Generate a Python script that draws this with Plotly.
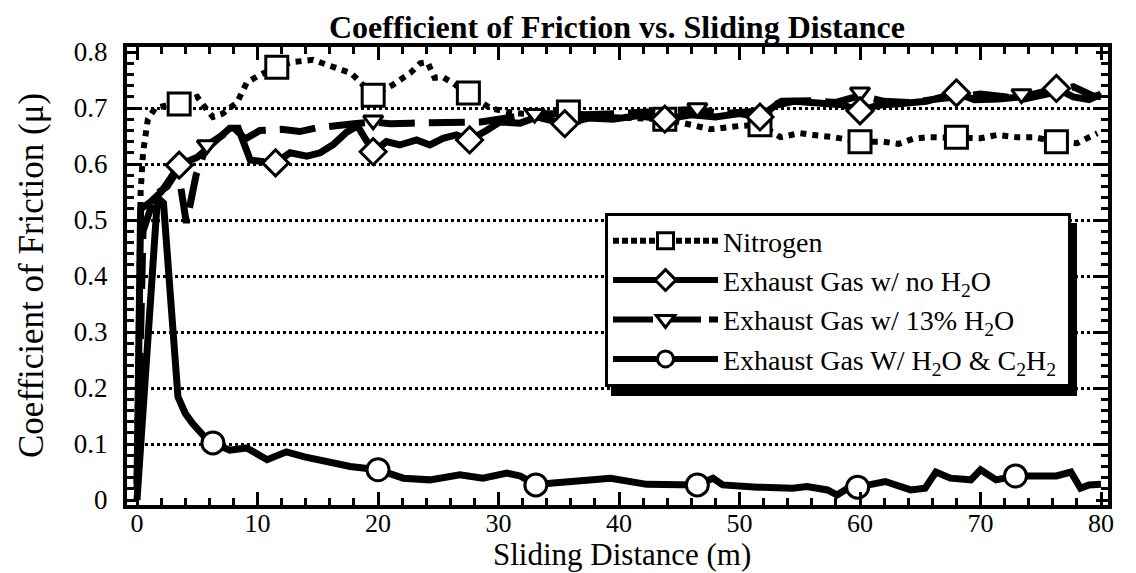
import plotly.graph_objects as go

FONT = "Liberation Serif"

# ---------------- data ----------------
n2_x = [0, 0.1, 0.2, 0.3, 0.5, 0.9, 1.5, 2.5, 3.5, 4.3, 5.0, 5.5, 6.3, 7.1, 8.3, 9.1, 10.0,
        11.6, 12.9, 14.6, 16.0, 17.0, 17.8, 19.6, 21.2, 22.0, 22.7, 23.5, 24.1, 24.7, 25.4,
        26.1, 27.5, 29.3, 30.7, 32.0, 34.0, 35.8, 38.0, 40.0, 42.0, 43.8, 46.0, 47.6, 50.0,
        51.7, 53.4, 55.0, 56.1, 57.8, 60.0, 61.9, 63.2, 64.4, 65.6, 68.0, 70.0, 71.4, 73.0,
        74.4, 76.3, 78.0, 79.7]
n2_y = [0.05, 0.2, 0.4, 0.55, 0.62, 0.68, 0.70, 0.705, 0.707, 0.715, 0.72, 0.705, 0.684, 0.69,
        0.71, 0.745, 0.757, 0.773, 0.782, 0.786, 0.777, 0.768, 0.762, 0.723, 0.741, 0.754,
        0.763, 0.78, 0.782, 0.754, 0.755, 0.746, 0.727, 0.70, 0.693, 0.69, 0.69, 0.693, 0.685,
        0.683, 0.68, 0.68, 0.67, 0.662, 0.668, 0.67, 0.648, 0.655, 0.652, 0.648, 0.64, 0.64,
        0.636, 0.645, 0.648, 0.648, 0.646, 0.652, 0.648, 0.648, 0.64, 0.637, 0.655]
n2_mx = [3.5, 11.6, 19.6, 27.5, 35.8, 43.8, 51.7, 60.0, 68.0, 76.3]
n2_my = [0.707, 0.773, 0.723, 0.727, 0.693, 0.68, 0.67, 0.64, 0.648, 0.64]

noh_x = [0, 0.3, 1.0, 2.0, 2.8, 3.5, 5.0, 6.2, 7.7, 8.4, 9.4, 10.5, 11.5, 12.7, 14.1, 15.2,
         16.3, 17.4, 18.3, 19.6, 20.7, 21.8, 23.2, 24.3, 25.4, 26.5, 27.6, 29.0, 30.1, 31.8,
         33.2, 35.5, 37.5, 39.5, 41.5, 43.8, 46.0, 48.0, 50.0, 51.7, 53.0, 54.5, 56.5, 58.5,
         60.0, 61.5, 63.5, 65.5, 68.0, 69.5, 71.5, 73.5, 76.3, 77.7, 79.0, 80.0]
noh_y = [0.03, 0.52, 0.53, 0.55, 0.575, 0.598, 0.612, 0.637, 0.664, 0.664, 0.607, 0.604,
         0.602, 0.62, 0.614, 0.62, 0.635, 0.657, 0.668, 0.622, 0.64, 0.634, 0.643, 0.634,
         0.646, 0.652, 0.643, 0.66, 0.675, 0.673, 0.684, 0.672, 0.682, 0.68, 0.686, 0.68,
         0.688, 0.684, 0.69, 0.684, 0.705, 0.712, 0.708, 0.706, 0.695, 0.705, 0.708, 0.712,
         0.727, 0.715, 0.716, 0.72, 0.735, 0.72, 0.715, 0.725]
noh_mx = [3.5, 11.5, 19.6, 27.6, 35.5, 43.8, 51.7, 60.0, 68.0, 76.3]
noh_my = [0.598, 0.602, 0.622, 0.643, 0.672, 0.68, 0.684, 0.695, 0.727, 0.735]

h13_x = [0, 0.5, 1.5, 2.5, 3.4, 4.1, 4.9, 5.8, 7.0, 8.0, 9.0, 10.2, 12.0, 13.5, 15.0, 16.5,
         18.0, 19.6, 21.0, 22.7, 25.0, 27.0, 28.5, 30.0, 33.0, 35.0, 37.0, 40.0, 43.0, 46.5,
         48.5, 50.5, 52.0, 53.5, 56.0, 58.0, 60.0, 62.0, 64.0, 66.0, 68.0, 70.0, 72.0, 73.4,
         75.5, 77.7, 79.3, 80.0]
h13_y = [0.02, 0.48, 0.545, 0.56, 0.59, 0.495, 0.58, 0.634, 0.65, 0.665, 0.645, 0.66, 0.662,
         0.658, 0.665, 0.67, 0.672, 0.675, 0.672, 0.673, 0.673, 0.672, 0.675, 0.68, 0.69,
         0.69, 0.688, 0.69, 0.695, 0.698, 0.69, 0.692, 0.695, 0.712, 0.713, 0.71, 0.722,
         0.712, 0.71, 0.715, 0.72, 0.725, 0.72, 0.715, 0.725, 0.738, 0.722, 0.72]
h13_mx = [5.8, 19.6, 33.0, 46.5, 60.0, 73.4]
h13_my = [0.634, 0.678, 0.69, 0.70, 0.728, 0.725]

c2_x = [0, 0.6, 1.2, 1.7, 2.2, 2.8, 3.4, 4.0, 4.6, 5.6, 6.3, 7.7, 9.1, 10.8, 12.4, 13.9, 15.8,
        17.7, 20.0, 22.1, 24.3, 26.8, 28.7, 30.7, 31.8, 33.1, 34.3, 36.8, 39.3, 42.3, 45.0,
        46.5, 47.8, 48.6, 51.5, 54.4, 55.6, 57.3, 58.1, 59.0, 59.8, 62.1, 64.2, 65.4, 66.3,
        67.5, 69.2, 70.0, 71.3, 72.9, 76.3, 77.5, 78.3, 79.0, 80.0]
c2_y = [0.0, 0.2, 0.42, 0.54, 0.53, 0.35, 0.184, 0.155, 0.137, 0.113, 0.102, 0.089, 0.093,
        0.072, 0.086, 0.077, 0.068, 0.06, 0.054, 0.039, 0.036, 0.045, 0.039, 0.048, 0.043,
        0.027, 0.03, 0.036, 0.039, 0.028, 0.027, 0.027, 0.039, 0.027, 0.023, 0.021, 0.024,
        0.018, 0.009, 0.021, 0.023, 0.033, 0.018, 0.021, 0.05, 0.039, 0.036, 0.054, 0.036,
        0.043, 0.043, 0.05, 0.021, 0.027, 0.028]
c2_mx = [6.3, 20.0, 33.1, 46.5, 59.8, 72.9]
c2_my = [0.102, 0.054, 0.027, 0.027, 0.023, 0.043]

x_ticks = [0, 10, 20, 30, 40, 50, 60, 70, 80]
y_ticks = [0, 0.1, 0.2, 0.3, 0.4, 0.5, 0.6, 0.7, 0.8]
y_ticktext = ["0", "0.1", "0.2", "0.3", "0.4", "0.5", "0.6", "0.7", "0.8"]
y_grid = [0.1, 0.2, 0.3, 0.4, 0.5, 0.6, 0.7]

title_text = "<b>Coefficient of Friction vs. Sliding Distance</b>"
x_title = "Sliding Distance (m)"
y_title = "Coefficient of Friction (μ)"
names = ["Nitrogen",
         "Exhaust Gas w/ no H<sub>2</sub>O",
         "Exhaust Gas w/ 13% H<sub>2</sub>O",
         "Exhaust Gas W/ H<sub>2</sub>O &amp; C<sub>2</sub>H<sub>2</sub>&nbsp;"]

# ---------------- figure ----------------
fig = go.Figure()

LW = 7
series = [
    (n2_x, n2_y, n2_mx, n2_my, "dot", "square", 22, 6, names[0]),
    (h13_x, h13_y, h13_mx, h13_my, "36px,14px", "triangle-down", 17, LW, names[2]),
    (noh_x, noh_y, noh_mx, noh_my, "solid", "diamond", 20, LW, names[1]),
    (c2_x, c2_y, c2_mx, c2_my, "solid", "circle", 22, LW, names[3]),
]

for x, y, mx, my, dash, sym, ms, w, nm in series:
    fig.add_trace(go.Scatter(x=x, y=y, mode="lines", showlegend=False,
                             line=dict(color="black", width=w, dash=dash),
                             hoverinfo="skip"))
for x, y, mx, my, dash, sym, ms, w, nm in series:
    fig.add_trace(go.Scatter(x=mx, y=my, mode="markers", showlegend=False,
                             marker=dict(symbol=sym, size=ms, color="white",
                                         line=dict(color="black", width=3)),
                             hoverinfo="skip"))

# legend entries in reference order
legend_order = [0, 2, 1, 3]
for i in legend_order:
    x, y, mx, my, dash, sym, ms, w, nm = series[i]
    fig.add_trace(go.Scatter(x=[None], y=[None], mode="lines+markers", name=nm,
                             line=dict(color="black", width=6,
                                       dash=("6px,3px" if dash == "dot" else
                                             ("40px,8px" if dash != "solid" else "solid"))),
                             marker=dict(symbol=sym, size=ms, color="white",
                                         line=dict(color="black", width=3))))

# grid-only overlay axis (dotted lines at 0.1 .. 0.7)
fig.add_trace(go.Scatter(x=[None], y=[None], yaxis="y2", showlegend=False))

# page has an 8px body margin: compensate so the plot area lands at 127..1108 x 47..505
OFF = 8
W, H = 1136 - OFF, 573 - OFF
L, R, T, B = 127 - OFF, 28, 47 - OFF, 68
pw = W - L - R
ph = H - T - B


def px(xp):
    return (xp - 127) / pw


def py(yp):
    return (505 - yp) / ph


# legend shadow
fig.add_shape(type="rect", xref="paper", yref="paper",
              x0=px(611), x1=px(1077), y0=py(396), y1=py(223),
              fillcolor="black", line=dict(width=0), layer="above")

# title and axis titles as annotations (exact placement)
fig.add_annotation(text=title_text, xref="paper", yref="paper", x=px(617), y=py(27),
                   xanchor="center", yanchor="middle", showarrow=False,
                   font=dict(family=FONT, size=32, color="black"))
fig.add_annotation(text=x_title, xref="paper", yref="paper", x=px(622), y=py(554),
                   xanchor="center", yanchor="middle", showarrow=False,
                   font=dict(family=FONT, size=31, color="black"))
fig.add_annotation(text=y_title, xref="paper", yref="paper", x=px(31), y=py(276),
                   xanchor="center", yanchor="middle", showarrow=False, textangle=-90,
                   font=dict(family=FONT, size=35, color="black"))

fig.update_layout(
    width=W, height=H,
    margin=dict(l=L, r=R, t=T, b=B, autoexpand=False),
    paper_bgcolor="white", plot_bgcolor="white",
    font=dict(family=FONT, color="black", size=24),
    xaxis=dict(range=[-0.83, 80.58], tickvals=x_ticks, ticks="inside", ticklen=13,
               tickwidth=3, tickcolor="black", showline=True, linewidth=4,
               linecolor="black", mirror="ticks", showgrid=False, zeroline=False,
               automargin=False, tickfont=dict(size=26, family=FONT),
               ticklabelstandoff=-8,
               minor=dict(dtick=2, tick0=0, ticks="inside", ticklen=7, tickwidth=3,
                          tickcolor="black")),
    yaxis=dict(range=[-0.0089, 0.809], tickvals=y_ticks, ticktext=y_ticktext,
               ticks="inside", ticklen=12, tickwidth=3, tickcolor="black",
               showline=True, linewidth=4, linecolor="black", mirror="ticks",
               showgrid=False, zeroline=False, ticklabelstandoff=10, automargin=False,
               tickfont=dict(size=27, family=FONT),
               minor=dict(dtick=0.02, tick0=0, ticks="inside", ticklen=7, tickwidth=3,
                          tickcolor="black")),
    yaxis2=dict(overlaying="y", range=[-0.0089, 0.809], tickvals=y_grid,
                showticklabels=False, ticks="", showgrid=True, gridcolor="black",
                griddash="dot", gridwidth=3, zeroline=False, showline=False,
                automargin=False, side="left"),
    legend=dict(x=px(605), y=py(213), xanchor="left", yanchor="top",
                bgcolor="white", bordercolor="black", borderwidth=3,
                font=dict(family=FONT, size=28, color="black"),
                itemwidth=105, tracegroupgap=0, traceorder="normal"),
)

fig.write_html("out.html")
